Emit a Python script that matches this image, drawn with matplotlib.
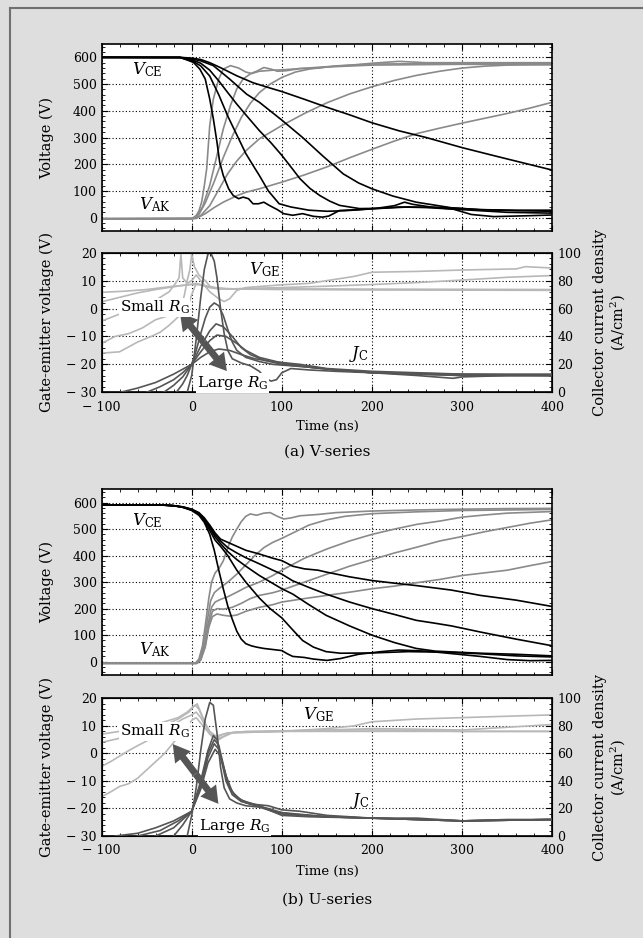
import numpy as np
import matplotlib.pyplot as plt
from matplotlib.ticker import MultipleLocator, FuncFormatter
from matplotlib.patches import FancyArrowPatch
from matplotlib.lines import Line2D

plt.rcParams['font.family'] = ['DejaVu Serif']
plt.rcParams['mathtext.fontset'] = 'dejavuserif'

# ---- (a) V-series : collector-emitter voltage (falling) and diode voltage (rising), V vs ns
a_vce_1 = [(-100, 600), (-13, 600), (2, 581), (9, 556), (15, 519), (20, 444), (24, 370), (28, 283), (31, 208),
           (35, 158), (41, 108), (46, 83), (52, 71), (57, 77), (63, 71), (68, 52), (74, 52), (80, 58), (86, 46),
           (95, 30), (102, 15), (112, 9), (123, 15), (135, 5), (145, 2), (152, 6), (164, 27), (185, 30), (205, 35),
           (225, 45), (236, 58), (245, 50), (265, 40), (290, 32), (310, 12), (335, 4), (370, 7), (400, 10)]
a_vce_2 = [(-100, 600), (-13, 599), (0, 588), (10, 568), (20, 530), (30, 460), (40, 380), (50, 310), (60, 240),
           (70, 185), (75, 158), (85, 100), (97, 52), (110, 40), (130, 28), (150, 24), (170, 26), (200, 33),
           (230, 40), (260, 38), (300, 30), (350, 20), (400, 17)]
a_vce_3 = [(-100, 600), (-13, 599), (0, 591), (10, 578), (20, 552), (30, 512), (40, 468), (50, 425), (60, 385),
           (75, 326), (88, 280), (100, 233), (110, 190), (120, 146), (131, 110), (142, 83), (153, 62), (164, 46),
           (186, 34), (210, 35), (240, 40), (280, 38), (320, 30), (360, 26), (400, 24)]
a_vce_4 = [(-100, 600), (-13, 600), (0, 594), (10, 587), (24, 569), (42, 519), (61, 462), (75, 432), (100, 365),
           (123, 300), (145, 232), (168, 164), (185, 130), (200, 108), (223, 81), (249, 58), (288, 37), (320, 30),
           (360, 28), (400, 28)]
a_vce_5 = [(-100, 600), (-13, 600), (0, 597), (10, 592), (20, 580), (31, 563), (50, 531), (68, 505), (87, 485),
           (100, 472), (125, 443), (150, 413), (175, 385), (200, 355), (230, 325), (260, 300), (300, 262),
           (340, 228), (370, 203), (400, 178)]

a_vak_1 = [(-100, -4), (0, -4), (5, 8), (8, 25), (11, 58), (14, 120), (16.6, 183), (20, 345), (24, 444), (30, 519),
           (35, 556), (43, 569), (52, 560), (60, 545), (66, 540), (72, 548), (80, 562), (88, 556), (95, 548),
           (105, 550), (120, 558), (140, 560), (160, 568), (180, 572), (200, 578), (230, 585), (260, 580),
           (300, 580), (350, 580), (400, 580)]
a_vak_2 = [(-100, -4), (0, -4), (5, 4), (12, 40), (20, 121), (28, 233), (35, 332), (43, 420), (50, 482), (57, 519),
           (65, 538), (75, 548), (90, 552), (100, 553), (120, 558), (150, 565), (200, 575), (300, 577), (400, 578)]
a_vak_3 = [(-100, -4), (2, -3), (8, 12), (15, 55), (25, 135), (35, 225), (45, 305), (55, 375), (65, 428), (75, 468),
           (87, 500), (100, 525), (115, 545), (130, 556), (150, 564), (200, 571), (300, 574), (400, 572)]
a_vak_4 = [(-100, -4), (3, -3), (10, 8), (20, 45), (30, 105), (40, 165), (50, 212), (60, 250), (75, 295),
           (100, 345), (125, 390), (150, 430), (175, 463), (200, 490), (225, 514), (250, 533), (275, 548),
           (300, 560), (325, 567), (350, 571), (400, 574)]
a_vak_5 = [(-100, -4), (5, -3), (15, 15), (25, 38), (35, 58), (50, 82), (60, 95), (75, 108), (100, 133),
           (125, 160), (150, 190), (175, 224), (200, 256), (225, 287), (250, 315), (275, 335), (300, 354),
           (325, 372), (350, 390), (375, 410), (400, 432)]

# collector current density (A/cm2, right axis)
a_jc_1 = [(-5, 0), (0, 12), (5, 38), (10, 68), (14, 88), (18, 99), (21, 100), (25, 94), (28, 82), (32, 60),
          (36, 42), (40, 30), (45, 24), (55, 21), (65, 19), (75, 15), (82, 10), (88, 8), (94, 9), (100, 14),
          (110, 17), (130, 16), (160, 15), (200, 14), (250, 12), (290, 10), (300, 11), (350, 12), (400, 12)]
a_jc_2 = [(-17, 0), (-10, 6), (-5, 12), (0, 20), (5, 30), (10, 42), (15, 53), (20, 61), (25, 64), (30, 62),
          (35, 55), (40, 45), (45, 36), (50, 30), (60, 25), (75, 22), (90, 20), (110, 19), (130, 18), (160, 16),
          (200, 14), (250, 13), (300, 12), (350, 12), (400, 12)]
a_jc_3 = [(-31, 0), (-20, 5), (-10, 11), (0, 20), (10, 33), (20, 44), (27, 49), (35, 47), (45, 40), (55, 32),
          (65, 27), (80, 23), (100, 20), (130, 18), (160, 16), (200, 14), (250, 13), (300, 12), (400, 12)]
a_jc_4 = [(-50, 0), (-35, 4), (-20, 9), (-10, 14), (0, 20), (10, 29), (20, 37), (28, 41), (38, 40), (50, 35),
          (60, 30), (75, 25), (100, 21), (130, 18), (160, 16), (200, 14), (300, 13), (400, 12)]
a_jc_5 = [(-79, 0), (-60, 3), (-40, 7), (-20, 13), (0, 20), (10, 25), (20, 29), (30, 31), (42, 30), (55, 27),
          (70, 24), (90, 22), (120, 20), (150, 17), (200, 15), (300, 13), (400, 13)]

# gate-emitter voltage (V, left axis)
a_vge_1 = [(-100, 5.8), (-75, 6.2), (-50, 6.8), (-25, 7.8), (-10, 8.3), (0, 8.6), (10, 8.5), (20, 7.8), (30, 7.3),
           (50, 7), (100, 6.8), (200, 6.7), (300, 6.6), (400, 6.5)]
a_vge_2 = [(-100, 2.4), (-80, 4), (-60, 5.6), (-40, 6.8), (-20, 7.8), (-5, 8.5), (5, 9), (15, 8), (25, 7.2),
           (40, 7), (60, 7.2), (100, 7.5), (150, 8), (200, 8.6), (250, 9.3), (300, 10.2), (350, 11.2), (400, 11.8)]
a_vge_3 = [(-100, -4.5), (-80, -2), (-60, 0.5), (-40, 3), (-25, 6), (-18, 9), (-14, 11), (-12, 19.5), (-10, 11),
           (-5, 9), (0, 10), (5, 12), (10, 10), (20, 6), (30, 3.5), (36, 2.5), (42, 3.5), (50, 6.5), (60, 7.5),
           (80, 8), (100, 8.5), (130, 9), (160, 10.5), (180, 11.5), (200, 13), (250, 13.3), (300, 13.8),
           (360, 14.2), (370, 15), (400, 14.5)]
a_vge_4 = [(-100, -12.5), (-85, -10), (-70, -9), (-55, -7), (-40, -4), (-30, -3), (-20, -2), (-12, 0), (-8, 5),
           (-5, 10), (-2, 14), (0, 19.5), (3, 15), (8, 12), (15, 10), (20, 8), (30, 7), (50, 7), (100, 7),
           (200, 6.8), (400, 6.7)]
a_vge_5 = [(-100, -16), (-80, -15.5), (-60, -12), (-45, -10), (-35, -8.5), (-25, -6), (-15, -3), (-5, 0), (0, 5),
           (5, 9), (10, 8.5), (20, 7.5), (40, 7), (100, 7), (200, 6.9), (400, 6.8)]

# ---- (b) U-series
b_vce_1 = [(-100, 591), (-30, 590), (-20, 588), (-10, 582), (0, 570), (8, 552), (14, 525), (20, 480), (25, 420),
           (30, 345), (35, 275), (40, 210), (45, 160), (50, 115), (55, 85), (60, 68), (66, 60), (72, 55), (80, 50),
           (90, 46), (100, 42), (106, 30), (112, 20), (125, 16), (135, 10), (150, 5), (165, 12), (185, 28),
           (210, 38), (230, 44), (260, 40), (290, 30), (320, 20), (350, 8), (375, 4), (400, 5)]
b_vce_2 = [(-100, 591), (-30, 590), (-20, 588), (-10, 582), (0, 572), (8, 556), (14, 530), (20, 495), (26, 458),
           (32, 435), (40, 400), (50, 345), (60, 300), (75, 240), (87, 200), (100, 165), (112, 120), (123, 80),
           (135, 55), (149, 38), (165, 32), (200, 33), (240, 38), (280, 36), (320, 30), (360, 22), (400, 18)]
b_vce_3 = [(-100, 591), (-30, 590), (-20, 588), (-10, 583), (0, 573), (8, 558), (14, 535), (20, 505), (26, 470),
           (32, 445), (40, 415), (50, 385), (60, 360), (75, 325), (90, 295), (100, 275), (112, 255), (130, 215),
           (149, 175), (175, 135), (200, 100), (225, 72), (249, 50), (270, 40), (288, 37), (320, 32), (360, 28),
           (400, 22)]
b_vce_4 = [(-100, 591), (-30, 590), (-20, 588), (-10, 583), (0, 574), (8, 560), (14, 538), (20, 510), (26, 478),
           (32, 455), (40, 430), (50, 410), (60, 392), (75, 369), (90, 345), (100, 330), (112, 305), (130, 280),
           (149, 255), (175, 225), (200, 200), (225, 178), (249, 156), (270, 145), (288, 135), (320, 112),
           (360, 85), (400, 60)]
b_vce_5 = [(-100, 591), (-30, 590), (-20, 588), (-10, 584), (0, 575), (8, 562), (14, 542), (20, 515), (26, 485),
           (32, 462), (40, 450), (50, 435), (60, 420), (75, 406), (90, 390), (100, 381), (112, 360), (125, 350),
           (140, 345), (149, 338), (175, 320), (200, 306), (225, 296), (249, 287), (288, 270), (320, 250),
           (360, 232), (400, 208)]

b_vak_1 = [(-100, -6), (4, -6), (8, 10), (12, 60), (16, 160), (19, 240), (22, 300), (26, 335), (30, 350),
           (35, 380), (40, 430), (45, 470), (50, 500), (55, 528), (60, 548), (65, 557), (72, 552), (80, 560),
           (87, 562), (95, 548), (102, 538), (110, 542), (120, 550), (140, 555), (160, 562), (200, 568),
           (250, 572), (300, 575), (350, 577), (400, 578)]
b_vak_2 = [(-100, -6), (5, -6), (9, 10), (13, 60), (17, 150), (21, 230), (25, 260), (30, 275), (40, 300),
           (50, 330), (60, 365), (70, 400), (80, 430), (90, 450), (100, 465), (115, 490), (130, 515), (150, 535),
           (170, 548), (200, 558), (250, 565), (300, 570), (400, 574)]
b_vak_3 = [(-100, -6), (5, -6), (9, 8), (14, 60), (18, 140), (22, 205), (26, 225), (32, 235), (40, 245),
           (50, 262), (60, 280), (75, 300), (90, 325), (100, 345), (125, 390), (150, 425), (175, 455), (200, 480),
           (225, 500), (250, 518), (275, 530), (300, 545), (325, 553), (350, 560), (400, 566)]
b_vak_4 = [(-100, -6), (6, -6), (10, 8), (15, 60), (19, 140), (23, 190), (28, 200), (35, 198), (45, 205),
           (55, 220), (65, 238), (75, 250), (90, 260), (100, 270), (125, 300), (150, 330), (175, 360), (200, 385),
           (225, 410), (250, 432), (275, 455), (300, 472), (325, 490), (350, 506), (375, 522), (400, 535)]
b_vak_5 = [(-100, -6), (6, -6), (10, 6), (15, 55), (19, 130), (23, 170), (28, 180), (35, 175), (42, 172),
           (50, 176), (60, 190), (75, 205), (90, 215), (100, 225), (125, 238), (150, 250), (175, 262), (200, 275),
           (225, 285), (250, 298), (275, 310), (300, 325), (325, 335), (350, 345), (375, 362), (400, 378)]

b_jc_1 = [(-5, 0), (0, 15), (5, 35), (10, 62), (15, 85), (20, 97), (24, 95), (28, 75), (32, 50), (36, 35),
          (42, 27), (50, 24), (60, 22), (75, 21), (85, 19), (100, 16), (120, 15), (150, 14), (200, 13), (250, 13),
          (300, 11), (350, 12), (400, 12)]
b_jc_2 = [(-20, 0), (-10, 8), (0, 18), (10, 40), (18, 62), (24, 73), (28, 70), (33, 55), (38, 40), (45, 30),
          (55, 25), (70, 23), (85, 22), (100, 19), (120, 18), (150, 15), (200, 13), (300, 11), (400, 12)]
b_jc_3 = [(-40, 0), (-20, 6), (0, 18), (10, 38), (18, 60), (25, 70), (30, 66), (35, 52), (40, 38), (48, 29),
          (60, 24), (75, 22), (90, 18), (110, 16), (150, 14), (200, 13), (300, 11), (400, 12)]
b_jc_4 = [(-60, 0), (-35, 4), (-15, 11), (0, 18), (10, 36), (18, 57), (25, 67), (30, 63), (36, 48), (42, 35),
          (50, 28), (65, 23), (85, 20), (100, 17), (150, 14), (200, 13), (300, 11), (400, 12)]
b_jc_5 = [(-85, 0), (-60, 2), (-40, 6), (-20, 11), (0, 18), (10, 34), (18, 53), (26, 63), (32, 58), (38, 44),
          (45, 32), (55, 26), (70, 23), (85, 19), (100, 15), (130, 14), (200, 13), (300, 11), (400, 12)]

b_vge_1 = [(-100, 7), (-80, 8), (-60, 9), (-40, 10.5), (-25, 12), (-15, 13), (-5, 15), (0, 16.5), (4, 17.5),
           (8, 16), (12, 13), (16, 10), (20, 7), (25, 5.5), (30, 5), (35, 6), (45, 7.5), (60, 8), (100, 8.2),
           (150, 8.5), (200, 8.5), (250, 8.3), (300, 8), (350, 8), (400, 8)]
b_vge_2 = [(-100, 4), (-80, 5.5), (-60, 7), (-40, 9), (-25, 11), (-15, 12.5), (-8, 14), (-3, 15), (2, 17),
           (6, 18), (10, 15), (15, 11), (20, 8), (28, 6), (35, 7), (50, 7.8), (100, 8), (150, 8.5), (200, 9),
           (250, 8.8), (300, 8.5), (350, 9.5), (400, 10.5)]
b_vge_3 = [(-100, -4.7), (-90, -3), (-80, -1), (-70, 1), (-60, 2.8), (-50, 4.5), (-40, 6.5), (-30, 8.5),
           (-20, 10.5), (-10, 12.5), (0, 14), (5, 15), (10, 13), (15, 10), (25, 6), (40, 7.5), (100, 8), (150, 9),
           (180, 10), (200, 11.5), (250, 12.5), (300, 13), (350, 13.5), (400, 14)]
b_vge_4 = [(-100, -15.7), (-90, -14), (-80, -12), (-70, -11), (-60, -9), (-50, -6), (-40, -3), (-30, 0), (-25, 2),
           (-20, 4), (-15, 6), (-5, 10), (0, 12), (5, 13), (10, 11), (20, 7), (30, 5.5), (45, 7.5), (100, 8),
           (400, 8)]

C_VCE, C_VAK, C_JC, C_VGE = 'black', '#8a8a8a', '#555555', '#b8b8b8'


def minus_fmt(v, pos):
    v = int(round(v))
    return '\u2212 %d' % abs(v) if v < 0 else '%d' % v


def style(ax):
    ax.set_xlim(-100, 400)
    ax.xaxis.set_major_locator(MultipleLocator(100))
    ax.xaxis.set_minor_locator(MultipleLocator(20))
    ax.tick_params(which='both', direction='in', top=True, right=True, labelsize=9)
    ax.tick_params(axis='x', pad=6)
    ax.tick_params(which='major', length=4)
    ax.tick_params(which='minor', length=2)
    ax.grid(True, which='major', color='black', ls=(0, (1, 2)), lw=0.8)
    for s in ax.spines.values():
        s.set_linewidth(1.2)


def curve(ax, pts, color, lw=1.2):
    t, v = zip(*pts)
    ax.plot(t, v, color=color, lw=lw)


def two_way_arrow(ax, trans, p1, p2):
    mid = ((p1[0] + p2[0]) / 2, (p1[1] + p2[1]) / 2)
    for end in (p1, p2):
        ax.add_patch(FancyArrowPatch(mid, end, transform=trans,
                                     arrowstyle='simple,head_length=1.1,head_width=1.3,tail_width=0.45',
                                     mutation_scale=11, color='#555555', lw=0, zorder=5, shrinkA=0, shrinkB=0))


fig = plt.figure(figsize=(6.43, 9.38), dpi=100)
fig.patch.set_facecolor('#dddedd')
fig.add_artist(Line2D([10 / 643, 10 / 643], [0, 1 - 8 / 938], color='#707070', lw=1.5))
fig.add_artist(Line2D([10 / 643, 1], [1 - 8 / 938, 1 - 8 / 938], color='#707070', lw=1.5))

L, W = 0.1579, 0.7012
panels = [
    dict(top=[L, 0.7537, W, 0.1994], bot=[L, 0.5818, W, 0.1488], cap='(a) V-series', ycap=451.7, ylab=426.7,
         vce=[a_vce_1, a_vce_2, a_vce_3, a_vce_4, a_vce_5], vak=[a_vak_1, a_vak_2, a_vak_3, a_vak_4, a_vak_5],
         jc=[a_jc_1, a_jc_2, a_jc_3, a_jc_4, a_jc_5], vge=[a_vge_1, a_vge_2, a_vge_3, a_vge_4, a_vge_5],
         arrow=((-13, -1.6), (39, -22.4)), small=(-80, 0.5), large=(6, -26.6), vce_lab=(-66, 554),
         vak_lab=(-59, 48), vge_lab=(64, 14), jc_lab=(174, -16.4)),
    dict(top=[L, 0.2804, W, 0.1980], bot=[L, 0.1087, W, 0.1468], cap='(b) U-series', ycap=899.3, ylab=871.7,
         vce=[b_vce_1, b_vce_2, b_vce_3, b_vce_4, b_vce_5], vak=[b_vak_1, b_vak_2, b_vak_3, b_vak_4, b_vak_5],
         jc=[b_jc_1, b_jc_2, b_jc_3, b_jc_4, b_jc_5], vge=[b_vge_1, b_vge_2, b_vge_3, b_vge_4],
         arrow=((-21, 3.4), (29.6, -18.3)), small=(-80, 8), large=(8, -26.4), vce_lab=(-66, 531),
         vak_lab=(-59, 44), vge_lab=(123, 14), jc_lab=(175, -17.1)),
]

for p in panels:
    # voltage panel
    ax = fig.add_axes(p['top'])
    style(ax)
    ax.set_ylim(-50, 650)
    ax.yaxis.set_major_locator(MultipleLocator(100))
    ax.yaxis.set_minor_locator(MultipleLocator(20))
    ax.set_yticks(range(0, 601, 100))
    ax.tick_params(labelbottom=False)
    for c in p['vak']:
        curve(ax, c, C_VAK)
    for c in p['vce']:
        curve(ax, c, C_VCE)
    ax.set_ylabel('Voltage (V)', fontsize=10.5)
    ax.yaxis.set_label_coords(-0.105, 0.5)
    ax.text(*p['vce_lab'], r'$V_{\rm CE}$', fontsize=12, va='center')
    ax.text(*p['vak_lab'], r'$V_{\rm AK}$', fontsize=12, va='center')

    # gate voltage (left) / current density (right) panel
    bx = fig.add_axes(p['bot'])
    style(bx)
    bx.tick_params(which='both', right=False)
    bx.set_ylim(-30, 20)
    bx.yaxis.set_major_locator(MultipleLocator(10))
    bx.yaxis.set_minor_locator(MultipleLocator(2))
    bx.xaxis.set_major_formatter(FuncFormatter(minus_fmt))
    bx.yaxis.set_major_formatter(FuncFormatter(minus_fmt))
    for c in p['vge']:
        curve(bx, c, C_VGE)
    bx.set_ylabel('Gate-emitter voltage (V)', fontsize=10.5)
    bx.yaxis.set_label_coords(-0.105, 0.5)

    rx = bx.twinx()
    rx.set_ylim(0, 100)
    rx.yaxis.set_major_locator(MultipleLocator(20))
    rx.yaxis.set_minor_locator(MultipleLocator(4))
    rx.tick_params(which='both', direction='in', labelsize=9)
    rx.tick_params(which='major', length=4)
    rx.tick_params(which='minor', length=2)
    for c in p['jc']:
        curve(rx, c, C_JC)
    rx.set_ylabel('Collector current density\n(A/cm$^2$)', fontsize=10.5, linespacing=1.05)
    rx.yaxis.set_label_coords(1.09, 0.5)

    # annotations drawn on the top twin so they sit above every curve
    two_way_arrow(rx, bx.transData, *p['arrow'])
    box = dict(fc='white', ec='none', pad=0.5)
    rx.text(*p['small'], r'Small $R_{\rm G}$', transform=bx.transData, fontsize=11, va='center', bbox=box, zorder=6)
    rx.text(*p['large'], r'Large $R_{\rm G}$', transform=bx.transData, fontsize=11, va='center', bbox=box, zorder=6)
    rx.text(*p['vge_lab'], r'$V_{\rm GE}$', transform=bx.transData, fontsize=12, va='center')
    rx.text(*p['jc_lab'], r'$J_{\rm C}$', transform=bx.transData, fontsize=12, va='center')

    fig.text(327 / 643, 1 - p['ylab'] / 938, 'Time (ns)', fontsize=9.5, ha='center', va='center')
    fig.text(327 / 643, 1 - p['ycap'] / 938, p['cap'], fontsize=11, ha='center', va='center')

fig.savefig('out.png', dpi=100, facecolor=fig.get_facecolor())
